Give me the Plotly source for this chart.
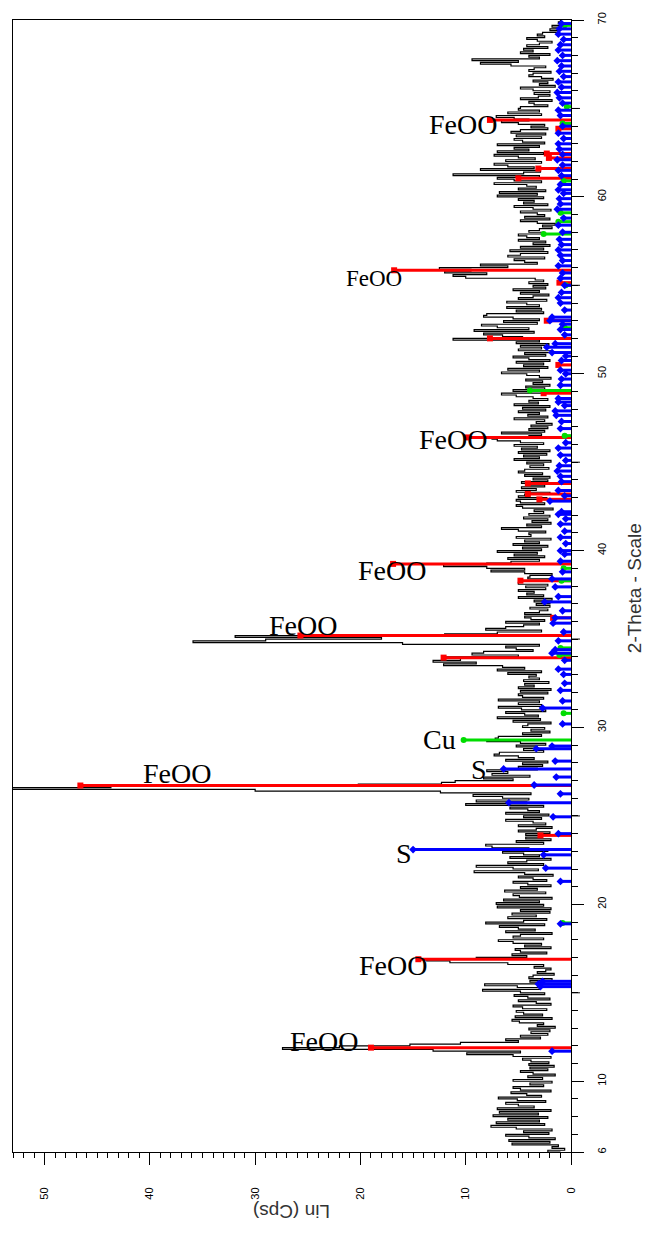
import plotly.graph_objects as go

# Measured XRD scan: 2-theta from 6.0 to 70.0 deg in 0.1 deg steps, Lin (Cps)
theta_start = 6.0
theta_step = 0.1
counts = [
    1.0, 2.2, 0.6, 1.8, 1.2, 5.6, 2.0, 5.9, 1.5, 4.0,    # 6
    6.2, 2.1, 4.5, 1.8, 5.2, 7.6, 2.5, 7.1, 3.0, 6.0,    # 7
    2.2, 7.4, 3.1, 6.8, 1.9, 7.0, 3.5, 5.0, 6.2, 2.4,    # 8
    5.1, 6.9, 2.8, 4.2, 5.7, 1.9, 4.8, 5.5, 2.6, 3.9,    # 9
    1.8, 5.5, 2.7, 4.1, 1.5, 3.6, 4.8, 2.2, 3.9, 1.6,    # 10
    4.0, 2.1, 3.8, 4.6, 1.9, 5.5, 9.9, 4.8, 13.1, 27.4,  # 11
    22.0, 15.3, 10.5, 5.0, 6.2, 2.9, 4.8, 2.2, 3.8, 2.0, # 12
    4.0, 1.5, 3.2, 2.6, 4.9, 5.6, 1.8, 5.3, 2.7, 4.5,    # 13
    5.2, 2.3, 4.6, 5.5, 1.9, 3.3, 5.0, 2.0, 4.1, 5.4,    # 14
    2.5, 4.8, 8.4, 3.0, 5.1, 8.2, 2.6, 3.9, 1.8, 4.0,    # 15
    3.6, 1.6, 3.2, 2.4, 1.9, 3.5, 2.6, 6.0, 11.5, 13.7,  # 16
    9.0, 4.2, 5.6, 2.3, 4.8, 5.3, 1.9, 4.4, 2.8, 5.5,    # 17
    6.9, 2.6, 5.5, 4.8, 1.8, 6.2, 3.4, 5.0, 6.8, 2.5,    # 18
    8.1, 4.5, 2.3, 6.0, 3.3, 5.6, 2.0, 4.8, 1.9, 7.0,    # 19
    2.6, 7.1, 3.0, 6.4, 1.8, 4.9, 5.5, 2.4, 6.3, 3.2,    # 20
    4.8, 1.9, 4.1, 5.5, 2.3, 3.6, 5.0, 1.7, 4.4, 9.2,    # 21
    3.1, 5.5, 9.0, 2.6, 6.0, 4.2, 1.9, 5.8, 3.0, 4.5,    # 22
    6.5, 2.2, 4.0, 7.5, 8.1, 2.6, 5.2, 1.9, 4.3, 3.0,    # 23
    4.3, 2.0, 5.0, 3.3, 1.8, 5.0, 2.4, 3.6, 6.2, 2.8,    # 24
    4.5, 2.1, 6.2, 3.0, 4.1, 5.8, 2.6, 10.0, 4.2, 9.0,   # 25
    4.0, 6.5, 9.3, 3.8, 12.4, 30.0, 58.0, 43.7, 20.2, 12.3,  # 26
    11.0, 5.5, 8.3, 3.9, 7.5, 6.0, 8.0, 3.2, 5.0, 2.7,   # 27
    4.6, 2.2, 6.2, 3.5, 5.0, 7.3, 6.8, 2.6, 4.5, 3.2,    # 28
    5.2, 2.4, 4.8, 8.0, 7.2, 6.9, 2.8, 4.6, 2.0, 3.8,    # 29
    2.5, 4.6, 4.1, 1.9, 5.5, 2.9, 7.0, 3.1, 4.4, 6.2,    # 30
    2.4, 4.7, 6.9, 2.8, 5.0, 3.0, 6.9, 2.6, 4.6, 5.0,    # 31
    2.2, 4.8, 1.9, 5.0, 3.5, 4.4, 2.1, 4.5, 3.0, 4.0,    # 32
    3.3, 6.0, 2.8, 7.0, 4.4, 6.5, 12.1, 9.0, 13.1, 10.5, # 33
    12.0, 5.0, 9.4, 8.3, 3.6, 5.2, 6.2, 3.0, 16.0, 35.9, # 34
    29.0, 18.0, 31.9, 12.0, 7.0, 2.8, 8.1, 6.2, 4.5, 3.0,  # 35
    6.2, 2.5, 3.8, 4.4, 1.9, 4.4, 3.0, 2.2, 3.9, 2.0,    # 36
    3.3, 2.0, 3.5, 1.8, 5.0, 2.6, 4.2, 3.5, 5.0, 2.4,    # 37
    4.3, 2.2, 5.0, 4.8, 2.0, 4.1, 3.9, 1.8, 4.4, 7.6,    # 38
    4.4, 8.0, 12.1, 8.0, 5.7, 3.0, 6.0, 2.5, 5.4, 3.2,   # 39
    7.0, 2.8, 4.6, 2.2, 5.5, 3.0, 4.4, 1.9, 5.2, 3.8,    # 40
    4.0, 2.4, 5.0, 6.6, 2.8, 4.2, 1.9, 3.7, 2.2, 4.5,    # 41
    2.0, 4.0, 2.6, 3.5, 1.7, 4.6, 5.2, 2.5, 4.8, 5.2,    # 42
    2.3, 5.0, 4.4, 2.0, 5.2, 3.3, 4.7, 2.5, 4.0, 4.7,    # 43
    2.2, 3.6, 2.0, 4.4, 2.7, 5.0, 4.4, 2.1, 3.9, 2.6,    # 44
    4.2, 1.9, 5.4, 3.0, 4.5, 2.3, 5.0, 2.0, 4.7, 3.2,    # 45
    5.4, 2.6, 4.8, 7.0, 7.5, 4.0, 2.8, 6.6, 2.5, 4.0,    # 46
    2.2, 3.8, 1.8, 3.3, 2.5, 5.4, 2.2, 4.1, 3.0, 5.0,    # 47
    2.4, 4.6, 2.0, 5.4, 3.1, 4.0, 2.2, 3.6, 5.2, 6.6,    # 48
    2.8, 5.5, 2.5, 4.3, 2.0, 3.6, 2.7, 4.3, 1.9, 3.0,    # 49
    4.2, 6.6, 3.0, 6.0, 2.2, 4.5, 2.6, 5.2, 2.0, 4.0,    # 50
    5.5, 2.4, 4.4, 1.9, 5.0, 2.8, 4.8, 2.1, 5.2, 3.0,    # 51
    11.2, 4.6, 6.5, 8.3, 3.5, 9.2, 4.0, 7.0, 8.5, 3.2,   # 52
    6.4, 3.0, 5.5, 8.3, 8.0, 2.6, 5.2, 2.8, 6.1, 3.0,    # 53
    4.2, 6.1, 2.3, 5.0, 3.6, 2.1, 4.8, 3.0, 5.5, 2.4,    # 54
    3.6, 2.2, 4.0, 2.6, 3.4, 10.0, 11.2, 8.0, 12.0, 9.5, # 55
    12.5, 6.0, 8.6, 3.2, 4.4, 5.4, 2.5, 6.0, 4.8, 2.2,   # 56
    5.8, 2.6, 4.8, 2.0, 3.6, 2.4, 5.0, 3.0, 4.2, 5.0,    # 57
    2.6, 4.0, 3.0, 1.8, 2.7, 1.5, 3.2, 4.8, 2.0, 4.4,    # 58
    2.5, 3.2, 4.8, 1.9, 3.6, 5.4, 2.2, 4.5, 3.5, 5.0,    # 59
    2.6, 7.0, 3.2, 6.8, 2.4, 5.0, 3.3, 4.2, 7.3, 2.8,    # 60
    5.4, 7.0, 3.0, 11.2, 4.5, 2.9, 8.6, 3.5, 6.0, 7.3,   # 61
    2.8, 6.2, 3.4, 5.0, 7.3, 2.6, 7.0, 4.0, 5.4, 3.0,    # 62
    7.0, 2.5, 4.6, 5.4, 2.8, 5.2, 2.4, 5.7, 4.8, 2.2,    # 63
    3.8, 2.5, 5.0, 6.6, 4.0, 5.4, 7.1, 2.8, 6.0, 3.0,    # 64
    5.0, 4.8, 2.2, 3.5, 4.0, 1.8, 4.8, 3.1, 2.0, 3.5,    # 65
    2.0, 3.6, 4.8, 1.5, 3.0, 2.2, 3.6, 1.7, 2.8, 4.0,    # 66
    3.6, 1.9, 4.0, 3.5, 2.4, 5.7, 8.6, 5.0, 9.4, 3.0,    # 67
    4.0, 2.0, 4.8, 3.6, 4.5, 2.2, 4.2, 3.0, 1.8, 3.2,    # 68
    4.2, 2.5, 3.2, 2.7, 1.2, 2.0, 1.0, 1.8, 0.8, 1.2,    # 69
    1.0,                                                 # 70
]
theta = [round(theta_start + i * theta_step, 2) for i in range(len(counts))]

# Reference stick patterns (2-theta, Lin)
feooh_pos = [11.9, 16.9, 26.72, 33.95, 35.2, 36.2, 38.3, 39.25, 42.9, 43.2, 43.8,
             46.4, 48.9, 50.5, 52.0, 53.0, 55.15, 55.85, 61.05, 61.6, 62.2,
             62.45, 63.85, 64.35, 23.9]
feooh_int = [19.0, 14.5, 46.6, 12.1, 25.7, 1.7, 4.8, 16.9, 3.0, 4.1, 4.1,
             9.9, 2.6, 1.2, 7.7, 2.3, 1.1, 16.8, 5.0, 3.1, 2.1,
             2.3, 1.2, 7.7, 2.9]

sulfur_pos = [11.7, 15.35, 15.5, 15.65, 18.9, 21.3, 22.05, 22.8, 23.1, 24.0,
              24.95, 25.75, 26.25, 26.75, 27.2, 27.66, 28.1, 28.8, 28.95, 30.2,
              31.1, 31.5, 32.1, 32.5, 33.0, 33.3, 33.8, 34.2, 34.4, 34.9,
              35.4, 35.9, 36.2, 36.6, 37.1, 37.4, 37.95, 38.4, 38.8, 39.4,
              39.8, 40.0, 40.4, 40.75, 41.1, 41.5, 41.8, 42.05, 42.2, 42.8,
              43.1, 43.4, 43.9, 44.2, 44.5, 44.8, 45.1, 45.4, 45.8, 46.1,
              46.9, 47.3, 47.65, 47.9, 48.2, 48.4, 48.6, 49.35, 49.7, 50.0,
              50.2, 50.75, 51.0, 51.2, 51.5, 51.7, 52.2, 52.5, 52.8, 53.0,
              53.2, 53.6, 54.0, 54.3, 54.6, 55.0, 55.4, 55.7, 56.1, 56.4,
              56.7, 57.0, 57.3, 57.6, 58.0, 58.4, 58.8, 59.3, 59.6, 59.9,
              60.2, 60.4, 60.7, 61.2, 61.5, 61.8, 62.1, 62.4, 62.7, 63.0,
              63.3, 63.6, 64.0, 64.6, 64.9, 65.3, 65.6, 65.9, 66.2, 66.5,
              66.8, 67.1, 67.4, 67.7, 68.0, 68.3, 68.6, 68.9, 69.2, 69.5, 69.8]
sulfur_int = [1.8, 2.9, 3.1, 2.7, 1.0, 1.0, 2.4, 2.6, 15.0, 1.2,
              1.7, 5.9, 1.0, 3.5, 1.4, 6.4, 1.5, 3.3, 1.8, 0.8,
              2.7, 0.8, 1.0, 0.6, 0.7, 1.2, 0.6, 1.8, 1.5, 1.2,
              0.7, 1.7, 1.5, 0.8, 2.5, 1.2, 1.5, 1.8, 0.8, 1.0,
              0.6, 1.0, 0.5, 1.0, 0.6, 1.0, 0.5, 1.2, 0.9, 2.0,
              0.6, 1.2, 0.9, 1.0, 1.3, 1.1, 0.5, 1.0, 1.2, 0.5,
              1.0, 0.9, 1.4, 1.5, 0.6, 1.2, 1.2, 1.0, 0.9, 0.5,
              1.0, 0.9, 0.5, 1.8, 2.3, 1.5, 0.6, 1.0, 0.8, 2.0,
              1.8, 0.6, 1.0, 1.2, 0.9, 0.6, 1.0, 0.8, 1.2, 0.8,
              1.0, 1.2, 0.9, 1.1, 0.8, 1.2, 0.7, 1.3, 1.0, 1.1,
              0.7, 1.2, 1.0, 0.9, 1.2, 0.8, 1.3, 0.8, 1.1, 1.2,
              0.7, 1.2, 0.8, 1.0, 1.2, 0.8, 1.1, 1.3, 0.9, 1.2,
              0.7, 1.1, 0.9, 1.3, 0.8, 1.2, 1.0, 0.7, 1.2, 1.1, 0.9]

copper_pos = [18.95, 29.3, 30.8, 34.1, 34.5, 38.3, 39.0, 46.5, 49.05, 52.6,
              55.0, 57.9, 58.6, 59.1, 60.9, 64.15, 65.1, 69.7]
copper_int = [0.8, 10.2, 0.7, 1.1, 1.0, 0.9, 0.7, 0.6, 3.9, 0.6,
              0.5, 2.6, 1.2, 1.0, 0.7, 0.8, 0.4, 0.6]

# Phase labels: (text, Lin, 2-theta, font size)
labels = [
    ("FeOO", 10.3, 64.1, 28),
    ("FeOO", 18.7, 55.4, 23),
    ("FeOO", 11.2, 46.3, 28),
    ("FeOO", 17.0, 38.9, 28),
    ("FeOO", 25.5, 35.75, 28),
    ("Cu", 12.5, 29.3, 28),
    ("S", 8.7, 27.6, 28),
    ("FeOO", 37.4, 27.38, 28),
    ("S", 15.9, 22.85, 28),
    ("FeOO", 16.9, 16.55, 28),
    ("FeOO", 23.5, 12.26, 28),
]


def sticks(pos, inten):
    xs, ys = [], []
    for p, h in zip(pos, inten):
        xs += [0, h, None]
        ys += [p, p, None]
    return xs, ys


fig = go.Figure()

# Scan drawn as horizontal steps at each 2-theta position
fig.add_trace(go.Scatter(x=counts, y=theta, mode="lines",
                         line=dict(color="black", width=1.2, shape="hv"),
                         hoverinfo="skip"))

for pos, inten, color, symbol in [
    (feooh_pos, feooh_int, "#ff0000", "square"),
    (copper_pos, copper_int, "#00dd00", "circle"),
    (sulfur_pos, sulfur_int, "#0000ff", "diamond"),
]:
    xs, ys = sticks(pos, inten)
    fig.add_trace(go.Scatter(x=xs, y=ys, mode="lines",
                             line=dict(color=color, width=3), hoverinfo="skip"))
    fig.add_trace(go.Scatter(x=inten, y=pos, mode="markers",
                             marker=dict(color=color, symbol=symbol, size=6),
                             hoverinfo="skip"))

for text, xi, yt, size in labels:
    fig.add_annotation(x=xi, y=yt, xref="x", yref="y", text=text, showarrow=False,
                       font=dict(family="Liberation Serif", size=size, color="black"))

# Axis titles, rotated with the chart
fig.add_annotation(x=0.5, y=-0.0527, xref="paper", yref="paper", text="Lin (Cps)",
                   showarrow=False, textangle=180, xanchor="center", yanchor="middle",
                   font=dict(family="Liberation Sans", size=19, color="#333"))
fig.add_annotation(x=1.1127, y=0.498, xref="paper", yref="paper", text="2-Theta - Scale",
                   showarrow=False, textangle=-90, xanchor="center", yanchor="middle",
                   font=dict(family="Liberation Sans", size=19, color="#333"))

# Medium ticks every 5 deg on the 2-theta axis
for v in [15, 25, 35, 45, 55, 65]:
    fig.add_shape(type="line", xref="paper", yref="y", x0=1, x1=1 + 9 / 559,
                  y0=v, y1=v, line=dict(color="black", width=1))

fig.update_layout(
    width=648, height=1234,
    margin=dict(l=12, r=77, t=13, b=82),
    paper_bgcolor="white", plot_bgcolor="white",
    showlegend=False,
    xaxis=dict(range=[53, 0], showgrid=False, zeroline=False,
               showline=True, linecolor="black", linewidth=1, mirror=True,
               ticks="outside", tick0=0, dtick=10, ticklen=12, tickcolor="black",
               tickangle=-90, ticklabelstandoff=18,
               tickfont=dict(family="Liberation Sans", size=11, color="black"),
               minor=dict(ticks="outside", tick0=0, dtick=1, ticklen=5, tickcolor="black")),
    yaxis=dict(range=[6, 70], side="right", showgrid=False, zeroline=False,
               showline=True, linecolor="black", linewidth=1, mirror=True,
               ticks="outside", tickmode="array",
               tickvals=[6, 10, 20, 30, 40, 50, 60, 70],
               ticktext=["6", "10", "20", "30", "40", "50", "60", "70"],
               ticklen=12, tickcolor="black", tickangle=-90, ticklabelstandoff=9,
               tickfont=dict(family="Liberation Sans", size=11, color="black"),
               minor=dict(ticks="outside", tickmode="linear", tick0=0, dtick=1,
                          ticklen=6, tickcolor="black")),
)

fig.write_html("out.html")
